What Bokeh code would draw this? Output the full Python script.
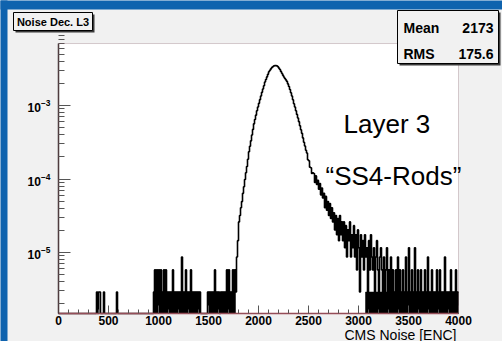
from bokeh.plotting import figure
from bokeh.models import Range1d, FixedTicker, SingleIntervalTicker, Label, BoxAnnotation
from bokeh.embed import file_html
from bokeh.resources import INLINE

# ---------------- data ----------------
BIN_WIDTH = 10          # ENC per bin
UNIT = 2.9e-6           # normalised height of one entry

low_start = 380         # bins 380 .. 1760
low_counts = [1, 0, 1, 1, 0, 0, 0, 1, 0, 0,
              0, 0, 0, 0, 0, 0, 0, 0, 0, 0,
              1, 0, 0, 0, 0, 0, 0, 0, 0, 0,
              0, 0, 0, 0, 0, 0, 0, 0, 0, 0,
              0, 0, 0, 0, 0, 0, 0, 0, 0, 0,
              0, 0, 0, 0, 0, 0, 0, 1, 2, 1,
              2, 1, 2, 1, 2, 1, 1, 2, 1, 2,
              1, 1, 1, 1, 1, 1, 2, 1, 1, 1,
              1, 1, 1, 1, 1, 3, 1, 1, 1, 2,
              1, 1, 1, 1, 2, 1, 1, 1, 1, 1,
              1, 1, 1, 1, 0, 0, 0, 0, 0, 0,
              0, 1, 1, 1, 1, 1, 1, 1, 2, 1,
              1, 1, 1, 0, 1, 1, 1, 1, 1, 1,
              2, 1, 2, 1, 1, 1, 2, 1, 2]

core_start = 1770       # bins 1770 .. 3290
core_counts = [1, 3, 5, 9, 11, 14, 17, 22, 27, 34,
               42, 51, 64, 81, 96, 114, 137, 163, 194, 222,
               255, 293, 329, 369, 414, 465, 521, 578, 641, 719,
               779, 845, 915, 991, 1038, 1087, 1138, 1165, 1192, 1203,
               1203, 1192, 1165, 1113, 1063, 1003, 946, 893, 843, 805,
               769, 734, 678, 625, 570, 514, 464, 413, 365, 329,
               293, 261, 233, 208, 183, 161, 144, 125, 109, 97,
               85, 78, 63, 61, 50, 49, 41, 42,
               41, 31, 38, 29, 33, 25, 30, 21, 26, 19,
               22, 14, 20, 13, 17, 11, 16, 10, 14, 9,
               12, 7, 11, 6, 10, 5, 11, 6, 9, 5,
               9, 4, 8, 3, 7, 5, 9, 3, 6, 4,
               8, 3, 6, 2, 7, 4, 1, 6, 3, 5,
               2, 6, 3, 4, 1, 5, 2, 6, 3, 2,
               4, 1, 3, 5, 2, 1, 3, 4, 2, 1,
               3, 1, 2, 4, 1]

tail_start = 3300       # bins 3300 .. 3990
tail_counts = [2, 1, 3, 1, 2, 1, 1, 2, 1, 3,
               1, 2, 1, 1, 2, 1, 1, 3, 1, 1,
               4, 1, 1, 2, 1, 1, 4, 1, 1, 2,
               1, 1, 2, 1, 1, 1, 2, 1, 1, 3,
               1, 1, 1, 2, 1, 1, 1, 1, 2, 1,
               1, 2, 1, 1, 1, 1, 3, 1, 1, 1,
               1, 1, 2, 1, 1, 1, 1, 2, 1, 1]

# ranges where single entries are so dense that the area below one entry is solid
dense_starts = [950, 1490, 1620, 3070]
dense_ends = [1420, 1610, 1770, 4000]

X_MIN, X_MAX = 0, 4000
Y_MIN, Y_MAX = 1.48e-6, 6.97e-3
y_tick_values = [1e-5, 1e-4, 1e-3]
stat_names = ["Mean", "RMS"]
stat_values = ["2173", "175.6"]
hist_title = "Noise Dec. L3"
x_title = "CMS Noise [ENC]"
note_lines = ["Layer 3", "\u201cSS4-Rods\u201d"]

# ---------------- build histogram ----------------
counts = [0] * (low_start // BIN_WIDTH) + low_counts + core_counts + tail_counts
assert len(counts) == (X_MAX - X_MIN) // BIN_WIDTH
heights = [c * UNIT if c > 0 else Y_MIN for c in counts]
edges = [X_MIN + i * BIN_WIDTH for i in range(len(counts) + 1)]

BLUE = "#0f63ae"
PANEL = "#f1f1f1"
FONT = "Liberation Sans"
W, H = 502, 341


# page pixel -> data coordinates (plot box: x 58..458, y 43..313)
def px2x(px):
    return (px - 58) * 10.0


def py2y(py):
    return 10 ** (-3 - (py - 105) / 73.5)


p = figure(width=W, height=H, x_range=Range1d(px2x(0), px2x(W)),
           y_range=Range1d(py2y(H), py2y(0)), y_axis_type="log",
           output_backend="svg", toolbar_location=None,
           min_border_left=0, min_border_right=0, min_border_top=0, min_border_bottom=0,
           background_fill_color=PANEL, border_fill_color=PANEL, outline_line_color=None)
p.grid.visible = False

# white plot area
p.add_layout(BoxAnnotation(left=X_MIN, right=X_MAX, bottom=Y_MIN, top=Y_MAX, fill_color="white",
                           fill_alpha=1, line_color=None, level="underlay"))
# blue slide border (left, top)
p.add_layout(BoxAnnotation(left=px2x(-10), right=px2x(7), bottom=py2y(H + 10), top=py2y(-10),
                           fill_color=BLUE, fill_alpha=1, line_color=None, level="underlay"))
p.add_layout(BoxAnnotation(left=px2x(-10), right=px2x(W + 10), bottom=py2y(9), top=py2y(-10),
                           fill_color=BLUE, fill_alpha=1, line_color=None, level="underlay"))

p.quad(left=dense_starts, right=dense_ends, bottom=[Y_MIN] * len(dense_starts),
       top=[UNIT] * len(dense_starts), fill_color="black", line_color="black", line_width=0.5)
p.step(x=edges, y=heights + [heights[-1]], mode="after", line_color="black", line_width=1.6)

# frame (top / right)
p.add_layout(BoxAnnotation(left=X_MIN, right=X_MAX, bottom=Y_MIN, top=Y_MAX, fill_alpha=0,
                           line_color="#7d5a62", line_width=1))

# axes
xa = p.xaxis[0]
xa.fixed_location = Y_MIN
xa.bounds = (X_MIN, X_MAX)
xa.ticker = SingleIntervalTicker(interval=500, num_minor_ticks=5)
xa.major_tick_in = 8
xa.major_tick_out = 0
xa.minor_tick_in = 4
xa.minor_tick_out = 0
xa.axis_line_color = "#a04a55"
xa.axis_line_width = 1.5
xa.major_tick_line_color = "#555555"
xa.minor_tick_line_color = "#555555"
xa.major_label_standoff = 3
xa.major_label_text_font = FONT
xa.major_label_text_font_style = "bold"
xa.major_label_text_font_size = "12px"
xa.major_label_text_color = "black"

ya = p.yaxis[0]
ya.fixed_location = X_MIN
ya.bounds = (Y_MIN, Y_MAX)
ya.ticker = FixedTicker(ticks=y_tick_values,
                        minor_ticks=[m * 10.0 ** e for e in (-6, -5, -4, -3) for m in range(2, 10)])
ya.major_tick_in = 12
ya.major_tick_out = 0
ya.minor_tick_in = 6
ya.minor_tick_out = 0
ya.axis_line_color = "#3c3030"
ya.axis_line_width = 1.5
ya.major_tick_line_color = "#555555"
ya.minor_tick_line_color = "#555555"
ya.major_label_standoff = 8
ya.major_label_text_font = FONT
ya.major_label_text_font_style = "bold"
ya.major_label_text_font_size = "12px"
ya.major_label_text_color = "black"


def box(l, r, t, b):
    p.add_layout(BoxAnnotation(left=px2x(l + 2), right=px2x(r + 2), top=py2y(t + 2), bottom=py2y(b + 2),
                               fill_color="#3a3a3a", fill_alpha=1, line_color=None))
    p.add_layout(BoxAnnotation(left=px2x(l), right=px2x(r), top=py2y(t), bottom=py2y(b),
                               fill_color=PANEL, fill_alpha=1, line_color="black", line_width=1,
                               line_alpha=1))


def text(px, py, s, size, bold=False, align="left", baseline="middle"):
    p.add_layout(Label(x=px2x(px), y=py2y(py), text=s, text_font=FONT, text_font_size=size,
                       text_font_style="bold" if bold else "normal", text_align=align,
                       text_baseline=baseline, text_color="black"))


# title box
box(13, 92, 12, 30)
text(52.5, 21.5, hist_title, "11px", bold=True, align="center")

# stats box
box(397, 498, 10, 63)
for i, (n, v) in enumerate(zip(stat_names, stat_values)):
    yy = 27 + 26 * i
    text(403, yy, n, "14px", bold=True)
    text(493, yy, v, "14px", bold=True, align="right")

# annotations in the plot
text(343, 123, note_lines[0], "26px", baseline="alphabetic")
text(325, 175, note_lines[1], "26px", baseline="alphabetic")

# x axis title (right aligned, like ROOT)
text(456, 334, x_title, "14px", align="right", baseline="alphabetic")

open("out.html", "w").write(file_html(p, INLINE))
